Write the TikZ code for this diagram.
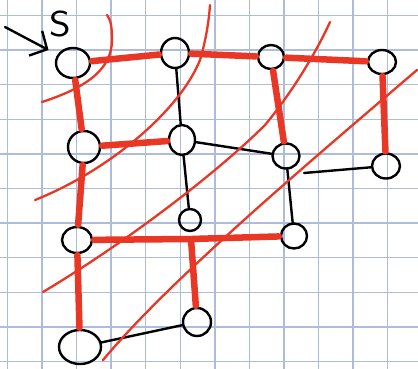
\documentclass[tikz,border=0pt]{standalone}
\usetikzlibrary{shapes.geometric,arrows.meta}
\definecolor{gridblue}{RGB}{172,188,218}
\definecolor{cutred}{RGB}{233,55,38}
\begin{document}
\begin{tikzpicture}[x=1pt,y=-1pt,
  vtx/.style={draw=black, line width=2.4pt, ellipse, inner sep=0pt},
  edge/.style={draw=black, line width=2.4pt, line cap=round},
  hot/.style={draw=cutred, line width=6.5pt, line cap=round, shorten <=1pt, shorten >=1pt},
  cut/.style={draw=cutred, line width=2.3pt, line cap=round},
  gridline/.style={draw=gridblue, line width=1.4pt}]

% paper
\fill[white] (0,0) rectangle (418,369);
\useasboundingbox (0,0) rectangle (418,369);
\foreach \k in {0,...,11} \draw[gridline] ({7.5+34.55*\k},0) -- ({7.5+34.55*\k},369);
\foreach \k in {0,...,10} \draw[gridline] (0,{15.5+34.6*\k}) -- (418,{15.5+34.6*\k});

% vertices
\node[vtx, minimum width=34pt, minimum height=30pt] (s) at (73,63) {};
\node[vtx, minimum width=28pt, minimum height=30pt] (a) at (175,53) {};
\node[vtx, minimum width=26pt, minimum height=24pt] (b) at (271,57) {};
\node[vtx, minimum width=28pt, minimum height=24pt] (c) at (382,62) {};
\node[vtx, minimum width=32pt, minimum height=32pt] (d) at (84,147) {};
\node[vtx, minimum width=26pt, minimum height=30pt] (e) at (182,140) {};
\node[vtx, minimum width=27pt, minimum height=25pt] (f) at (286,156) {};
\node[vtx, minimum width=28pt, minimum height=25pt] (g) at (386,166) {};
\node[vtx, minimum width=30pt, minimum height=26pt] (h) at (77,240) {};
\node[vtx, minimum width=22pt, minimum height=22pt] (i) at (190,220) {};
\node[vtx, minimum width=26pt, minimum height=25pt] (j) at (294,236) {};
\node[vtx, minimum width=42pt, minimum height=34pt] (k) at (80,347) {};
\node[vtx, minimum width=28pt, minimum height=28pt] (l) at (197,322) {};
\coordinate (m) at (191,239);
\coordinate (gstub) at (304,173);
\coordinate (arrowtail) at (5,27);

% start label and arrow
\node[font=\sffamily\fontsize{36}{36}\selectfont, inner sep=0pt, xscale=1.15] (slabel) at (60,24) {S};
\draw[edge, -{Straight Barb[length=13pt,width=28pt]}, shorten >=10pt] (arrowtail) -- (s);

% edges
\draw[edge] (s) -- (a);
\draw[edge] (a) -- (b);
\draw[edge] (b) -- (c);
\draw[edge] (s) -- (d);
\draw[edge] (a) -- (e);
\draw[edge] (b) -- (f);
\draw[edge] (c) -- (g);
\draw[edge] (d) -- (e);
\draw[edge] (e) -- (f);
\draw[edge] (d) -- (h);
\draw[edge] (e) -- (i);
\draw[edge] (f) -- (j);
\draw[edge] (h) -- (j);
\draw[edge] (h) -- (k);
\draw[edge] (k) -- (l);
\draw[edge] (m) -- (l);
\draw[edge] (gstub) -- (g);

% highlighted edges
\draw[hot] (s) -- (a);
\draw[hot] (a) -- (b);
\draw[hot] (b) -- (c);
\draw[hot] (s) -- (d);
\draw[hot] (b) -- (f);
\draw[hot] (c) -- (g);
\draw[hot] (d) -- (e);
\draw[hot] (d) -- (h);
\draw[hot] (h) -- (m);
\draw[hot] (m) -- (j);
\draw[hot] (h) -- (k);
\draw[hot] (m) -- (l);

% cuts
\draw[cut] (42,102) .. controls (85,88) and (112,70) .. (112,40)
           .. controls (112,28) and (111,20) .. (107,15);
\draw[cut] (35,200) .. controls (110,170) and (180,110) .. (200,60)
           .. controls (206,40) and (209,20) .. (210,5);
\draw[cut] (43,292) .. controls (130,240) and (220,170) .. (265,125)
           .. controls (290,95) and (315,55) .. (330,22);
\draw[cut] (103,360) .. controls (170,280) and (300,170) .. (417,70);
\end{tikzpicture}
\end{document}
